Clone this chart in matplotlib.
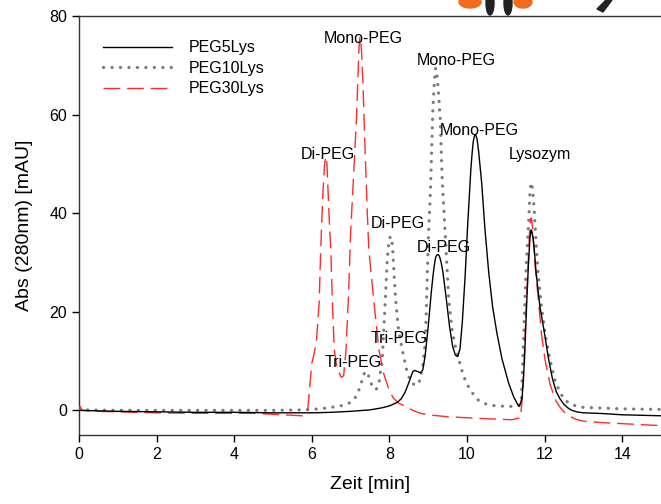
import matplotlib
matplotlib.use("Agg")
import matplotlib.pyplot as plt
from matplotlib.patches import Ellipse, Polygon

plt.rcParams["font.family"] = ["Liberation Sans", "DejaVu Sans"]

# PEG5Lys (solid black)
peg5_x = [0.0, 0.5, 1.0, 2.0, 3.0, 4.0, 5.0, 6.0, 6.5, 7.0, 7.5, 7.8, 8.0, 8.2, 8.3,
          8.4, 8.5, 8.6, 8.65, 8.72, 8.8, 8.86, 8.92, 9.0, 9.08, 9.12, 9.15, 9.18, 9.2,
          9.22, 9.25, 9.28, 9.3, 9.34, 9.38, 9.46, 9.55, 9.63, 9.7, 9.76, 9.82, 9.88,
          9.95, 10.02, 10.1, 10.13, 10.16, 10.19, 10.21, 10.23, 10.26, 10.3, 10.38,
          10.46, 10.56, 10.66, 10.77, 10.9, 11.07, 11.2, 11.3, 11.35, 11.42, 11.48,
          11.54, 11.58, 11.62, 11.65, 11.67, 11.7, 11.73, 11.78, 11.88, 12.0, 12.1,
          12.2, 12.3, 12.4, 12.5, 12.6, 12.7, 12.85, 13.0, 13.5, 14.0, 15.0]
peg5_y = [0.0, -0.1, -0.2, -0.3, -0.4, -0.4, -0.5, -0.5, -0.4, -0.2, 0.1, 0.5, 0.9, 1.6, 2.3,
          3.6, 5.6, 7.8, 8.1, 7.9, 7.6, 8.2, 11.0, 17.0, 24.0, 27.0, 29.0, 30.6, 31.2,
          31.5, 31.6, 31.4, 31.0, 29.8, 28.0, 23.0, 17.0, 13.0, 11.2, 10.9, 12.5, 18.0,
          27.0, 38.0, 49.0, 52.0, 54.5, 55.6, 55.9, 55.8, 55.0, 52.5, 46.0,
          37.0, 28.0, 21.0, 15.7, 10.5, 5.6, 2.8, 1.3, 0.8, 2.5, 10.0,
          22.0, 29.0, 34.8, 36.6, 36.4, 35.0, 33.0, 28.0, 21.0, 15.5, 10.5,
          6.5, 3.8, 2.3, 1.2, 0.5, 0.0, -0.35, -0.5, -0.65, -0.9, -1.1]

# PEG10Lys (grey dotted)
peg10_x = [0.0, 1.0, 2.0, 3.0, 4.0, 5.0, 5.8, 6.2, 6.5, 6.8, 7.0, 7.1, 7.2, 7.3, 7.37,
           7.45, 7.55, 7.66, 7.74, 7.82, 7.88, 7.94, 7.97, 8.0, 8.03, 8.08, 8.11, 8.16,
           8.24, 8.33, 8.45, 8.55, 8.67, 8.78, 8.86, 8.93, 9.0, 9.06, 9.12, 9.16, 9.19,
           9.22, 9.26, 9.31, 9.36, 9.43, 9.53, 9.62, 9.7, 9.79, 9.9, 10.0, 10.13, 10.3,
           10.45, 10.63, 11.0, 11.3, 11.4, 11.46, 11.52, 11.6, 11.62, 11.65, 11.67,
           11.7, 11.73, 11.78, 11.83, 11.92, 12.01, 12.1, 12.25, 12.35, 12.5, 12.65,
           12.8, 13.0, 14.0, 15.0]
peg10_y = [0.1, 0.0, 0.0, 0.0, 0.0, 0.0, 0.1, 0.3, 0.6, 1.0, 1.6, 2.3, 3.8, 6.2, 7.9,
           7.3, 5.0, 4.2, 6.0, 11.0, 20.0, 30.0, 33.0, 34.8, 35.3, 33.5, 29.0, 22.4,
           16.0, 12.3, 8.0, 5.8, 5.0, 6.0, 9.0, 14.3, 34.0, 45.0, 61.0, 67.0, 69.4,
           68.5, 65.0, 59.0, 47.0, 37.0, 22.4, 16.0, 13.0, 10.3, 7.2, 5.3, 3.6, 2.0,
           1.4, 1.0, 0.8, 0.8, 1.5, 14.7, 28.0, 40.0, 44.0, 46.2, 46.0,
           44.0, 41.0, 34.0, 28.0, 21.0, 15.7, 11.7, 6.5, 4.5, 2.2, 1.4,
           0.9, 0.6, 0.3, 0.2]

# PEG30Lys (red dashed)
peg30_x = [0.0, 0.03, 0.08, 0.5, 1.0, 2.0, 3.0, 4.0, 4.5, 5.0, 5.5, 5.75, 5.85, 5.9,
           5.95, 6.0, 6.06, 6.12, 6.19, 6.23, 6.28, 6.33, 6.36, 6.39, 6.45, 6.49, 6.53,
           6.58, 6.65, 6.76, 6.82, 6.88, 6.95, 7.0, 7.06, 7.15, 7.2, 7.22, 7.24, 7.26,
           7.28, 7.32, 7.36, 7.43, 7.47, 7.6, 7.73, 7.85, 7.99, 8.1, 8.25, 8.42, 8.6,
           8.8, 9.0, 9.5, 10.0, 10.5, 11.15, 11.38, 11.45, 11.52, 11.6, 11.62, 11.65,
           11.67, 11.7, 11.76, 11.84, 11.92, 12.01, 12.15, 12.3, 12.4, 12.5, 12.65,
           12.8, 13.0, 13.5, 14.0, 15.0]
peg30_y = [0.0, 0.8, 0.0, -0.2, -0.3, -0.5, -0.6, -0.6, -0.6, -0.8, -1.0, -1.1, -0.6, 0.5,
           5.0, 9.5, 11.5, 14.0, 22.0, 32.6, 43.0, 50.0, 51.5, 50.0, 38.7, 32.6, 22.0,
           12.3, 8.5, 6.7, 7.0, 12.0, 24.0, 36.0, 45.0, 59.0, 70.0, 74.0, 75.8, 75.3,
           73.0, 66.0, 56.0, 40.0, 32.6, 22.0, 12.3, 7.5, 4.2, 2.5, 1.4, 0.8, 0.0,
           -0.6, -0.9, -1.3, -1.5, -1.7, -1.9, -1.5, 5.0, 20.0, 34.0, 37.5, 39.0,
           38.6, 36.0, 29.0, 22.4, 15.5, 10.3, 5.0, 1.8, 0.6, -0.3, -1.2,
           -1.8, -2.2, -2.5, -2.7, -3.1]

# peak annotations: text, x, y (centre of the label)
peak_labels = ["Mono-PEG", "Mono-PEG", "Mono-PEG", "Lysozym", "Di-PEG", "Di-PEG",
               "Di-PEG", "Tri-PEG", "Tri-PEG"]
label_x = [7.33, 9.73, 10.32, 11.89, 6.42, 8.21, 9.40, 8.25, 7.06]
label_y = [75.5, 70.9, 56.8, 52.0, 52.0, 38.0, 33.0, 14.5, 9.7]

fig = plt.figure(figsize=(6.61, 5.04), dpi=100)
ax = fig.add_axes([79 / 661, 1 - 435 / 504, 1 - 79 / 661, (435 - 16) / 504])

ax.plot(peg5_x, peg5_y, color="black", lw=1.0, label="PEG5Lys", zorder=4)
ax.plot(peg10_x, peg10_y, color="#7a7a80", lw=2.3, linestyle=(0, (0.05, 2.6)),
        dash_capstyle="round", label="PEG10Lys", zorder=2)
ax.plot(peg30_x, peg30_y, color="#ff2a2a", lw=1.0, linestyle=(0, (12, 5)),
        label="PEG30Lys", zorder=3)

for txt, tx, ty in zip(peak_labels, label_x, label_y):
    ax.text(tx, ty, txt, ha="center", va="center", fontsize=11.5, zorder=5)

ax.set_xlim(0, 15)
ax.set_ylim(-5, 80)
ax.set_xticks([0, 2, 4, 6, 8, 10, 12, 14])
ax.set_yticks([0, 20, 40, 60, 80])
ax.tick_params(direction="out", length=5, width=1, labelsize=11.5, colors="black")
ax.set_xlabel("Zeit [min]", fontsize=14, labelpad=10)
ax.set_ylabel("Abs (280nm) [mAU]", fontsize=14, labelpad=12)

for side in ["left", "bottom", "top"]:
    ax.spines[side].set_color("#333333")
    ax.spines[side].set_linewidth(1.0)
ax.spines["right"].set_visible(False)

ax.legend(loc="upper left", bbox_to_anchor=(0.041, 0.942), frameon=False,
          fontsize=11.5, handlelength=4.3, handletextpad=1.05, labelspacing=0.35,
          borderpad=0, borderaxespad=0)

# cropped logo fragment above the plot, top right
fig.patches.append(Ellipse((470 / 661, 1 - 2 / 504), 22 / 661, 12 / 504,
                           transform=fig.transFigure, color="#f26a1b", zorder=0))
fig.patches.append(Ellipse((523 / 661, 1 - 2 / 504), 18 / 661, 12 / 504,
                           transform=fig.transFigure, color="#f26a1b", zorder=0))
fig.patches.append(Ellipse((490 / 661, 1 - 3 / 504), 8 / 661, 24 / 504,
                           transform=fig.transFigure, color="#222222", zorder=1))
fig.patches.append(Ellipse((508 / 661, 1 - 3 / 504), 8 / 661, 24 / 504,
                           transform=fig.transFigure, color="#222222", zorder=1))
fig.patches.append(Polygon([(606 / 661, 1), (612 / 661, 1), (603 / 661, 1 - 12 / 504),
                            (597 / 661, 1 - 9 / 504)], closed=True,
                           transform=fig.transFigure, color="#222222"))

fig.savefig("out.png", dpi=100)
